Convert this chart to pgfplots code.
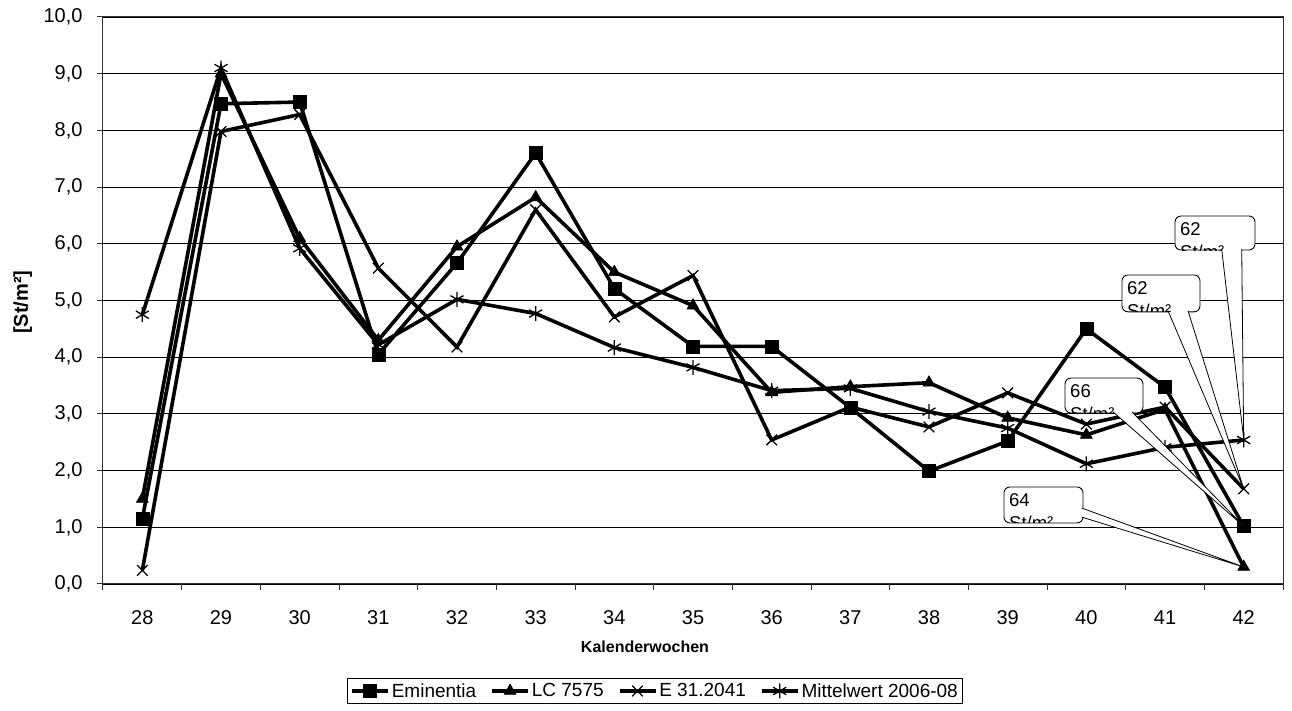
\documentclass[border=0pt]{standalone}
\usepackage{fontspec}
\setmainfont{Liberation Sans}
\usepackage{pgfplots}
\pgfplotsset{compat=1.18}
\newcommand\callout[6]{%
  \draw[black, line width=0.9pt, fill=white, rounded corners=6pt] (#1) rectangle (#2);
  \fill[white] (#3) -- (#5) -- (#4) -- cycle;
  \draw[black, line width=0.8pt] (#3) -- (#5) -- (#4);
  \begin{scope}
    \clip[rounded corners=6pt] (#1) rectangle (#2);
    \node[anchor=north west, inner sep=0pt, align=left, font=\fontsize{18.5}{23.3}\selectfont] at ([xshift=5pt,yshift=-6.5pt]#1) {#6\\St/m²};
  \end{scope}
}
\begin{document}
\begin{tikzpicture}
\begin{axis}[
  scale only axis, width=1180pt, height=567pt,
  xmin=27.5, xmax=42.5, ymin=0, ymax=10,
  axis line style={line width=1pt, black!80},
  tick pos=left, tick align=outside, major tick length=6pt,
  tick style={line width=1pt, black!80},
  xtick={27.5,28.5,29.5,30.5,31.5,32.5,33.5,34.5,35.5,36.5,37.5,38.5,39.5,40.5,41.5,42.5},
  xticklabels={},
  extra x ticks={28,29,30,31,32,33,34,35,36,37,38,39,40,41,42},
  extra x tick labels={28,29,30,31,32,33,34,35,36,37,38,39,40,41,42},
  extra x tick style={tick style={draw=none}, grid=none},
  ytick={0,1,2,3,4,5,6,7,8,9,10},
  ymajorgrids, grid style={black, line width=0.8pt},
  tick label style={font=\fontsize{20}{24}\selectfont},
  xticklabel style={yshift=-17pt},
  yticklabel style={xshift=-11pt, /pgf/number format/.cd, fixed, fixed zerofill, precision=1, use comma, assume math mode=true},
  xlabel={Kalenderwochen},
  xlabel style={at={(axis description cs:0.4593,-0.111)}, anchor=center, font=\fontsize{16}{19}\selectfont\bfseries},
  ylabel={[St/m²]},
  ylabel style={at={(axis description cs:-0.068,0.497)}, anchor=center, font=\fontsize{20}{24}\selectfont\bfseries},
  legend style={at={(0.4678,-0.1887)}, anchor=center, legend columns=4, draw=black, line width=1pt,
    font=\fontsize{19}{22}\selectfont, inner sep=3pt,
    /tikz/every even column/.append style={column sep=12pt}},
  legend image code/.code={\draw[mark repeat=2, mark phase=2] plot coordinates {(0pt,0pt) (18pt,0pt) (36pt,0pt)};},
]
\addplot[black, line width=3.6pt, mark=square*, mark size=6.5pt, mark options={solid, line width=0.5pt}] coordinates {
(28,1.15) (29,8.47) (30,8.5) (31,4.05) (32,5.66) (33,7.6) (34,5.21) (35,4.19) (36,4.19) (37,3.11) (38,1.99) (39,2.52) (40,4.5) (41,3.47) (42,1.02)};
\addlegendentry{Eminentia}
\addplot[black, line width=3.6pt, mark=triangle*, mark size=7pt, mark options={solid, line width=0.5pt}] coordinates {
(28,1.5) (29,9.0) (30,6.1) (31,4.3) (32,5.95) (33,6.82) (34,5.5) (35,4.91) (36,3.38) (37,3.48) (38,3.55) (39,2.93) (40,2.63) (41,3.08) (42,0.3)};
\addlegendentry{LC 7575}
\addplot[black, line width=3.6pt, mark=x, mark size=7.5pt, mark options={solid, line width=1.3pt}] coordinates {
(28,0.24) (29,7.98) (30,8.28) (31,5.57) (32,4.18) (33,6.6) (34,4.71) (35,5.44) (36,2.54) (37,3.12) (38,2.77) (39,3.37) (40,2.82) (41,3.12) (42,1.68)};
\addlegendentry{E 31.2041}
\addplot[black, line width=3.6pt, mark=asterisk, mark size=7.5pt, mark options={solid, line width=1.3pt}] coordinates {
(28,4.75) (29,9.1) (30,5.92) (31,4.22) (32,5.02) (33,4.77) (34,4.17) (35,3.82) (36,3.41) (37,3.45) (38,3.04) (39,2.75) (40,2.12) (41,2.41) (42,2.54)};
\addlegendentry{Mittelwert 2006-08}
\coordinate (bl) at (rel axis cs:0,0);
\coordinate (tr) at (rel axis cs:1,1);
% callout 1
\coordinate (a1) at (axis cs:41.127,6.49);
\coordinate (b1) at (axis cs:42.144,5.89);
\coordinate (p1) at (axis cs:41.72,5.91);
\coordinate (q1) at (axis cs:41.975,5.91);
\coordinate (t1) at (axis cs:42,2.56);
% callout 2
\coordinate (a2) at (axis cs:40.453,5.45);
\coordinate (b2) at (axis cs:41.445,4.80);
\coordinate (p2) at (axis cs:41.038,4.82);
\coordinate (q2) at (axis cs:41.292,4.82);
\coordinate (t2) at (axis cs:42,1.68);
% callout 3
\coordinate (a3) at (axis cs:39.729,3.633);
\coordinate (b3) at (axis cs:40.72,3.016);
\coordinate (p3) at (axis cs:40.339,3.036);
\coordinate (q3) at (axis cs:40.58,3.036);
\coordinate (t3) at (axis cs:42,1.02);
% callout 4
\coordinate (a4) at (axis cs:38.953,1.711);
\coordinate (b4) at (axis cs:39.958,1.076);
\coordinate (p4) at (axis cs:39.94,1.34);
\coordinate (q4) at (axis cs:39.94,1.18);
\coordinate (t4) at (axis cs:42,0.3);
\end{axis}
\callout{a4}{b4}{p4}{q4}{t4}{64}
\callout{a3}{b3}{p3}{q3}{t3}{66}
\callout{a2}{b2}{p2}{q2}{t2}{62}
\callout{a1}{b1}{p1}{q1}{t1}{62}
\path ([shift={(-103pt,-127pt)}]bl) rectangle ([shift={(9pt,17pt)}]tr);
\end{tikzpicture}
\end{document}
